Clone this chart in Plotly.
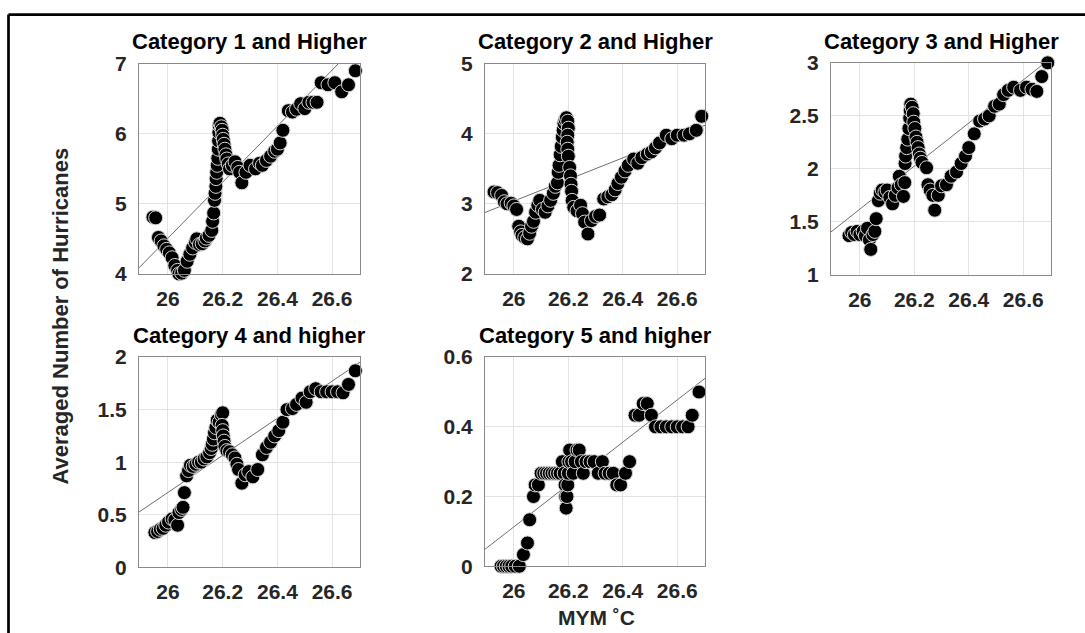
import plotly.graph_objects as go
import numpy as np

# ---------------- data ----------------
x1 = [25.945, 25.955, 25.965, 25.975, 25.985, 25.995, 26.005, 26.015, 26.025, 26.035,
      26.040, 26.050, 26.060, 26.070, 26.080, 26.090, 26.100, 26.105, 26.115, 26.125,
      26.135, 26.140, 26.150, 26.160, 26.163, 26.167, 26.170, 26.172, 26.175, 26.176,
      26.178, 26.180, 26.182, 26.184, 26.185, 26.186, 26.187, 26.190, 26.195, 26.198,
      26.200, 26.202, 26.205, 26.208, 26.212, 26.215, 26.220, 26.225, 26.235, 26.245,
      26.255, 26.262, 26.270, 26.285, 26.300, 26.320, 26.335, 26.345, 26.360, 26.375,
      26.390, 26.400, 26.410, 26.420, 26.440, 26.455, 26.470, 26.485, 26.500, 26.515,
      26.530, 26.545, 26.560, 26.585, 26.610, 26.635, 26.660, 26.685]
y1 = [4.81, 4.80, 4.52, 4.47, 4.40, 4.35, 4.30, 4.23, 4.12, 4.05,
      4.00, 4.01, 4.05, 4.18, 4.28, 4.37, 4.45, 4.50, 4.42, 4.43,
      4.47, 4.51, 4.55, 4.62, 4.75, 4.87, 5.05, 5.15, 5.25, 5.36,
      5.45, 5.55, 5.65, 5.78, 5.90, 6.02, 6.12, 6.15, 6.10, 6.05,
      5.98, 5.92, 5.85, 5.78, 5.70, 5.64, 5.57, 5.50, 5.55, 5.60,
      5.52, 5.45, 5.30, 5.45, 5.55, 5.50, 5.58, 5.55, 5.62, 5.68,
      5.75, 5.78, 5.87, 6.05, 6.33, 6.31, 6.35, 6.43, 6.36, 6.45,
      6.45, 6.45, 6.73, 6.70, 6.73, 6.60, 6.70, 6.90]

x2 = [25.927, 25.940, 25.955, 25.965, 25.975, 25.990, 26.000, 26.010, 26.018, 26.025,
      26.030, 26.040, 26.050, 26.058, 26.065, 26.072, 26.080, 26.088, 26.095, 26.105,
      26.115, 26.125, 26.135, 26.145, 26.152, 26.160, 26.163, 26.166, 26.170, 26.174,
      26.178, 26.181, 26.184, 26.188, 26.193, 26.198, 26.200, 26.198, 26.196, 26.198,
      26.200, 26.205, 26.208, 26.210, 26.212, 26.214, 26.220, 26.232, 26.245, 26.252,
      26.260, 26.272, 26.285, 26.300, 26.315, 26.330, 26.345, 26.360, 26.372, 26.382,
      26.395, 26.408, 26.420, 26.440, 26.455, 26.470, 26.490, 26.505, 26.520, 26.535,
      26.560, 26.580, 26.600, 26.625, 26.645, 26.670, 26.690]
y2 = [3.17, 3.16, 3.12, 3.03, 3.00, 3.01, 2.97, 2.92, 2.68, 2.60,
      2.55, 2.52, 2.50, 2.58, 2.68, 2.75, 2.88, 2.98, 3.05, 2.92,
      2.88, 2.97, 3.05, 3.15, 3.25, 3.30, 3.45, 3.55, 3.70, 3.82,
      3.95, 4.05, 4.15, 4.20, 4.23, 4.18, 4.08, 3.98, 3.88, 3.78,
      3.68, 3.52, 3.40, 3.28, 3.18, 3.05, 2.95, 2.90, 2.98, 2.86,
      2.74, 2.57, 2.76, 2.82, 2.84, 3.07, 3.10, 3.13, 3.20, 3.29,
      3.38, 3.47, 3.55, 3.64, 3.58, 3.66, 3.71, 3.74, 3.80, 3.87,
      3.98, 3.93, 3.98, 3.98, 4.00, 4.05, 4.25]

x3 = [25.960, 25.970, 25.980, 25.990, 26.000, 26.012, 26.020, 26.028, 26.035, 26.040,
      26.048, 26.055, 26.060, 26.068, 26.075, 26.082, 26.092, 26.100, 26.110, 26.120,
      26.130, 26.140, 26.145, 26.152, 26.160, 26.165, 26.166, 26.168, 26.172, 26.176,
      26.180, 26.183, 26.185, 26.187, 26.192, 26.196, 26.198, 26.202, 26.206, 26.210,
      26.214, 26.218, 26.222, 26.228, 26.245, 26.250, 26.258, 26.268, 26.275, 26.288,
      26.300, 26.318, 26.335, 26.355, 26.372, 26.388, 26.400, 26.420, 26.440, 26.458,
      26.475, 26.495, 26.512, 26.528, 26.545, 26.565, 26.590, 26.612, 26.632, 26.650,
      26.668, 26.690]
y3 = [1.37, 1.40, 1.38, 1.41, 1.38, 1.41, 1.37, 1.44, 1.33, 1.24,
      1.38, 1.41, 1.53, 1.70, 1.77, 1.80, 1.78, 1.80, 1.73, 1.67,
      1.75, 1.82, 1.93, 1.85, 1.74, 1.87, 2.05, 2.12, 2.20, 2.28,
      2.38, 2.48, 2.55, 2.61, 2.58, 2.52, 2.44, 2.38, 2.30, 2.25,
      2.20, 2.14, 2.10, 2.06, 2.01, 1.85, 1.80, 1.75, 1.61, 1.75,
      1.84, 1.85, 1.93, 1.97, 2.05, 2.12, 2.20, 2.33, 2.45, 2.47,
      2.50, 2.59, 2.61, 2.70, 2.74, 2.77, 2.74, 2.77, 2.75, 2.73,
      2.87, 3.00]

x4 = [25.952, 25.962, 25.972, 25.982, 25.992, 26.002, 26.015, 26.025, 26.035, 26.040,
      26.050, 26.055, 26.060, 26.068, 26.075, 26.082, 26.092, 26.102, 26.112, 26.122,
      26.132, 26.142, 26.152, 26.158, 26.162, 26.166, 26.170, 26.175, 26.180, 26.187,
      26.195, 26.200, 26.198, 26.200, 26.202, 26.205, 26.208, 26.215, 26.225, 26.235,
      26.245, 26.252, 26.258, 26.270, 26.282, 26.295, 26.310, 26.328, 26.345, 26.360,
      26.375, 26.390, 26.405, 26.420, 26.435, 26.455, 26.470, 26.490, 26.505, 26.520,
      26.540, 26.560, 26.580, 26.600, 26.620, 26.640, 26.660, 26.685]
y4 = [0.33, 0.34, 0.36, 0.37, 0.40, 0.43, 0.46, 0.45, 0.40, 0.52,
      0.55, 0.57, 0.71, 0.87, 0.92, 0.97, 0.96, 0.98, 1.00, 1.00,
      1.03, 1.05, 1.09, 1.13, 1.17, 1.22, 1.28, 1.33, 1.40, 1.38,
      1.45, 1.47, 1.35, 1.30, 1.25, 1.20, 1.15, 1.11, 1.10, 1.07,
      1.04, 0.98, 0.93, 0.80, 0.88, 0.91, 0.86, 0.93, 1.07, 1.14,
      1.19, 1.25, 1.30, 1.38, 1.50, 1.51, 1.55, 1.61, 1.57, 1.67,
      1.70, 1.67, 1.67, 1.67, 1.67, 1.66, 1.74, 1.87]

x5 = [25.953, 25.962, 25.972, 25.982, 25.992, 26.005, 26.020, 26.035, 26.050, 26.058,
      26.072, 26.078, 26.090, 26.100, 26.110, 26.120, 26.130, 26.140, 26.150, 26.160,
      26.170, 26.178, 26.185, 26.188, 26.190, 26.192, 26.195, 26.198, 26.200, 26.202,
      26.205, 26.212, 26.218, 26.225, 26.232, 26.240, 26.248, 26.255, 26.265, 26.280,
      26.295, 26.310, 26.325, 26.335, 26.350, 26.365, 26.378, 26.392, 26.410, 26.425,
      26.445, 26.460, 26.475, 26.490, 26.505, 26.520, 26.540, 26.560, 26.580, 26.600,
      26.620, 26.640, 26.655, 26.680]
y5 = [0.0, 0.0, 0.0, 0.0, 0.0, 0.0, 0.0, 0.0333, 0.0667, 0.1333,
      0.2, 0.2333, 0.2333, 0.2667, 0.2667, 0.2667, 0.2667, 0.2667, 0.2667, 0.2667,
      0.2667, 0.3, 0.2667, 0.2333, 0.2, 0.1667, 0.2, 0.2333, 0.2667, 0.3,
      0.3333, 0.3, 0.2667, 0.3, 0.3333, 0.3333, 0.3, 0.2667, 0.3, 0.3,
      0.3, 0.2667, 0.3, 0.2667, 0.2667, 0.2667, 0.2333, 0.2333, 0.2667, 0.3,
      0.4333, 0.4333, 0.4667, 0.4667, 0.4333, 0.4, 0.4, 0.4, 0.4, 0.4,
      0.4, 0.4, 0.4333, 0.5]

titles = ["Category 1 and Higher", "Category 2 and Higher", "Category 3 and Higher",
          "Category 4 and higher", "Category 5 and higher"]
y_ranges = [[4, 7], [2, 5], [1, 3], [0, 2], [0, 0.6]]
y_tickvals = [[4, 5, 6, 7], [2, 3, 4, 5], [1, 1.5, 2, 2.5, 3],
              [0, 0.5, 1, 1.5, 2], [0, 0.2, 0.4, 0.6]]
y_ticktext = [["4", "5", "6", "7"], ["2", "3", "4", "5"], ["1", "1.5", "2", "2.5", "3"],
              ["0", "0.5", "1", "1.5", "2"], ["0", "0.2", "0.4", "0.6"]]
x_tickvals = [26, 26.2, 26.4, 26.6]
x_ticktext = ["26", "26.2", "26.4", "26.6"]
# linear fit lines: value at 26 and slope
fit_at_26 = [4.51, 3.04, 1.62, 0.712, 0.113]
fit_slope = [4.0, 1.54, 2.03, 1.765, 0.607]

xs = [x1, x2, x3, x4, x5]
ys = [y1, y2, y3, y4, y5]

# ---------------- layout geometry (pixels) ----------------
W, H = 1085, 633
VS = 0.9724   # observed vertical scale of the rendered page
VO = 9.0      # observed vertical offset


def py(Y):
    """paper-y for a wanted on-screen pixel row Y"""
    return 1 - (Y / VS - VO) / H


x_range = [25.894, 26.702]
boxes = [  # left, right, top, bottom in on-screen pixels
    (139, 360, 61, 273),
    (485, 705, 61, 273),
    (831, 1051, 60, 274),
    (139, 360, 357, 569),
    (485, 705, 357, 568),
]
title_y = [39, 39, 39, 335, 335]

FONT = "Liberation Sans, Arial, Helvetica, sans-serif"
TICKCOL = "#262626"

fig = go.Figure()
layout = dict(
    width=W, height=H,
    margin=dict(l=0, r=0, t=0, b=0),
    paper_bgcolor="white", plot_bgcolor="white",
    showlegend=False,
    font=dict(family=FONT, color=TICKCOL),
)
annotations = []
for i in range(5):
    l, r, t, b = boxes[i]
    xa = "xaxis" if i == 0 else f"xaxis{i+1}"
    ya = "yaxis" if i == 0 else f"yaxis{i+1}"
    xref = "x" if i == 0 else f"x{i+1}"
    yref = "y" if i == 0 else f"y{i+1}"
    layout[xa] = dict(
        domain=[l / W, r / W], range=x_range, anchor=yref,
        tickvals=x_tickvals, ticktext=x_ticktext,
        showgrid=True, gridcolor="#e3e3e3", gridwidth=1,
        showline=True, linecolor="#8a8a8a", linewidth=1, mirror=True,
        ticks="", zeroline=False, ticklabelstandoff=6,
        tickfont=dict(size=21, family=FONT, color=TICKCOL, weight="bold"),
    )
    layout[ya] = dict(
        domain=[py(b), py(t)], range=y_ranges[i], anchor=xref,
        tickvals=y_tickvals[i], ticktext=y_ticktext[i],
        showgrid=True, gridcolor="#e3e3e3", gridwidth=1,
        showline=True, linecolor="#8a8a8a", linewidth=1, mirror=True,
        ticks="", zeroline=False, ticklabelstandoff=7,
        tickfont=dict(size=21, family=FONT, color=TICKCOL, weight="bold"),
    )
    # fit line
    xl = np.array(x_range)
    yl = fit_at_26[i] + fit_slope[i] * (xl - 26)
    fig.add_trace(go.Scatter(x=xl, y=yl, mode="lines", xaxis=xref, yaxis=yref,
                             line=dict(color="#6e6e6e", width=1), hoverinfo="skip"))
    fig.add_trace(go.Scatter(x=xs[i], y=ys[i], mode="markers", xaxis=xref, yaxis=yref,
                             marker=dict(size=14, color="black",
                                         line=dict(color="#d8d8d8", width=1)),
                             cliponaxis=False))
    annotations.append(dict(
        text=titles[i], xref="paper", yref="paper",
        x=(l + r) / 2 / W, y=py(title_y[i]), xanchor="center", yanchor="middle",
        showarrow=False, font=dict(size=22, family=FONT, color="black", weight="bold"),
    ))

annotations.append(dict(
    text="Averaged Number of Hurricanes", xref="paper", yref="paper",
    x=60 / W, y=py(316), xanchor="center", yanchor="middle", textangle=-90,
    showarrow=False, font=dict(size=22, family=FONT, color=TICKCOL, weight="bold"),
))
annotations.append(dict(
    text="MYM \u02daC", xref="paper", yref="paper",
    x=596 / W, y=py(620), xanchor="center", yanchor="middle",
    showarrow=False, font=dict(size=21, family=FONT, color=TICKCOL, weight="bold"),
))
layout["annotations"] = annotations
layout["shapes"] = [
    dict(type="line", xref="paper", yref="paper", x0=8.5 / W, x1=1.0,
         y0=py(11.3), y1=py(11.3), line=dict(color="black", width=2.7)),
    dict(type="line", xref="paper", yref="paper", x0=8.5 / W, x1=8.5 / W,
         y0=py(640), y1=py(11.3), line=dict(color="black", width=2.7)),
]
fig.update_layout(**layout)
fig.write_html("out.html")
